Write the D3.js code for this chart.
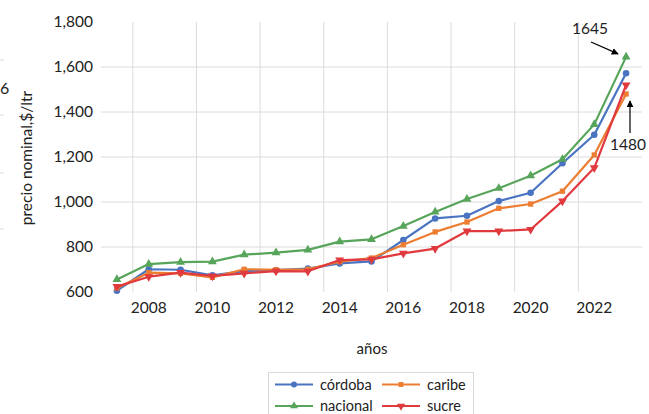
<!DOCTYPE html>
<html><head><meta charset="utf-8">
<script src="https://cdn.jsdelivr.net/npm/d3@7"></script>
<style>body{margin:0;background:#fff}svg{display:block}text{font-family:Lato,"Open Sans",sans-serif;fill:#222}</style>
</head><body><svg id="c" width="649" height="414"></svg>
<script>
const years = [2007,2008,2009,2010,2011,2012,2013,2014,2015,2016,2017,2018,2019,2020,2021,2022,2023];
const cordoba  = [606,701,699,674,693,697,704,727,736,831,927,939,1004,1041,1172,1299,1572];
const caribe   = [618,686,683,665,701,699,701,735,751,810,867,911,972,991,1048,1209,1480];
const nacional = [656,724,733,735,766,775,787,824,834,893,956,1013,1061,1117,1190,1345,1645];
const sucre    = [624,668,686,671,683,693,692,742,745,772,793,871,871,878,1004,1152,1520];
const yTicks = [600,800,1000,1200,1400,1600,1800];
const xTickYears = [2008,2010,2012,2014,2016,2018,2020,2022];
const seriesNames = ["córdoba","caribe","nacional","sucre"];
const colors = {"córdoba":"#4a74c2","caribe":"#ed7d31","nacional":"#57a55a","sucre":"#e0393e"};
const shapes = {"córdoba":d3.symbolCircle,"caribe":d3.symbolSquare,"nacional":d3.symbolTriangle,"sucre":"down"};
const data = {"córdoba":cordoba,"caribe":caribe,"nacional":nacional,"sucre":sucre};

const svg = d3.select("#c");
const x = d3.scaleBand().domain(years).range([101,642]).paddingInner(0).paddingOuter(0);
const cx = v => x(v) + x.bandwidth()/2;
const y = d3.scaleLinear().domain([600,1800]).range([292,22]);
const grid = "#dcdcdc";

// left-edge artifacts from neighbouring chart
[60,115,173,229].forEach(g=>svg.append("line").attr("x1",0).attr("x2",4).attr("y1",g).attr("y2",g).attr("stroke",grid));
svg.append("text").attr("x",0).attr("y",94).attr("font-size",16).text("6");

// gridlines
yTicks.filter(t=>t>600 && t<1800).forEach(t=>{
  svg.append("line").attr("x1",101).attr("x2",642).attr("y1",y(t)).attr("y2",y(t)).attr("stroke",grid).attr("stroke-width",1);
});
xTickYears.forEach(yr=>{
  svg.append("line").attr("x1",x(yr)).attr("x2",x(yr)).attr("y1",22).attr("y2",292).attr("stroke",grid).attr("stroke-width",1);
});

// y tick labels
yTicks.forEach(t=>{
  svg.append("text").attr("x",93).attr("y",y(t)).attr("dy","0.35em").attr("text-anchor","end").attr("font-size",15.5).text(d3.format(",")(t));
});
// x tick labels
xTickYears.forEach(yr=>{
  svg.append("text").attr("x",cx(yr)).attr("y",308).attr("dy","0.35em").attr("text-anchor","middle").attr("font-size",15.5).text(yr);
});
// axis titles
svg.append("text").attr("transform","translate(27,158) rotate(-90)").attr("text-anchor","middle").attr("dy","0.35em").attr("font-size",15.5).text("precio nominal,$/ltr");
svg.append("text").attr("x",372).attr("y",349).attr("dy","0.35em").attr("text-anchor","middle").attr("font-size",15).text("años");

function sym(name, size){
  if (shapes[name]==="down") return d3.symbol().type(d3.symbolTriangle).size(size)();
  return d3.symbol().type(shapes[name]).size(size)();
}
const line = d3.line().x((d,i)=>cx(years[i])).y(d=>y(d));
const order = ["córdoba","caribe","nacional","sucre"];
order.forEach(name=>{
  const g = svg.append("g");
  g.append("path").datum(data[name]).attr("d",line).attr("fill","none").attr("stroke",colors[name]).attr("stroke-width",2.2).attr("stroke-linejoin","round");
  g.selectAll("path.m").data(data[name]).enter().append("path").attr("class","m")
    .attr("d",sym(name, name==="caribe"?28:34))
    .attr("transform",(d,i)=>`translate(${cx(years[i])},${y(d)})`+(shapes[name]==="down"?" rotate(180)":""))
    .attr("fill",colors[name]);
});

// annotations
const defs = svg.append("defs");
defs.append("marker").attr("id","ah").attr("viewBox","0 0 10 10").attr("refX",9).attr("refY",5)
  .attr("markerWidth",7).attr("markerHeight",7).attr("markerUnits","userSpaceOnUse").attr("orient","auto")
  .append("path").attr("d","M0,0 L10,5 L0,10 z").attr("fill","#000");
const lastI = years.length-1;
svg.append("text").attr("x",590).attr("y",29).attr("dy","0.35em").attr("text-anchor","middle").attr("font-size",15.5).text(nacional[lastI]);
svg.append("line").attr("x1",591).attr("y1",42).attr("x2",cx(years[lastI])-8).attr("y2",y(nacional[lastI])-3).attr("stroke","#000").attr("stroke-width",1.2).attr("marker-end","url(#ah)");
svg.append("text").attr("x",628).attr("y",145).attr("dy","0.35em").attr("text-anchor","middle").attr("font-size",15.5).text(caribe[lastI]);
svg.append("line").attr("x1",630).attr("y1",133).attr("x2",630).attr("y2",y(caribe[lastI])+7).attr("stroke","#000").attr("stroke-width",1.2).attr("marker-end","url(#ah)");

// legend
const lg = svg.append("g");
lg.append("rect").attr("x",268.5).attr("y",372.5).attr("width",205).attr("height",50).attr("fill","#fff").attr("stroke","#d9d9d9");
const pos = [["córdoba",275,384.5],["caribe",382,384.5],["nacional",275,406],["sucre",382,406]];
pos.forEach(([name,lx,ly])=>{
  lg.append("line").attr("x1",lx).attr("x2",lx+38).attr("y1",ly).attr("y2",ly).attr("stroke",colors[name]).attr("stroke-width",2.2);
  lg.append("path").attr("d",sym(name, name==="caribe"?24:28)).attr("transform",`translate(${lx+19},${ly})`+(shapes[name]==="down"?" rotate(180)":"")).attr("fill",colors[name]);
  lg.append("text").attr("x",lx+45).attr("y",ly).attr("dy","0.35em").attr("font-size",14.5).text(name);
});
</script></body></html>
